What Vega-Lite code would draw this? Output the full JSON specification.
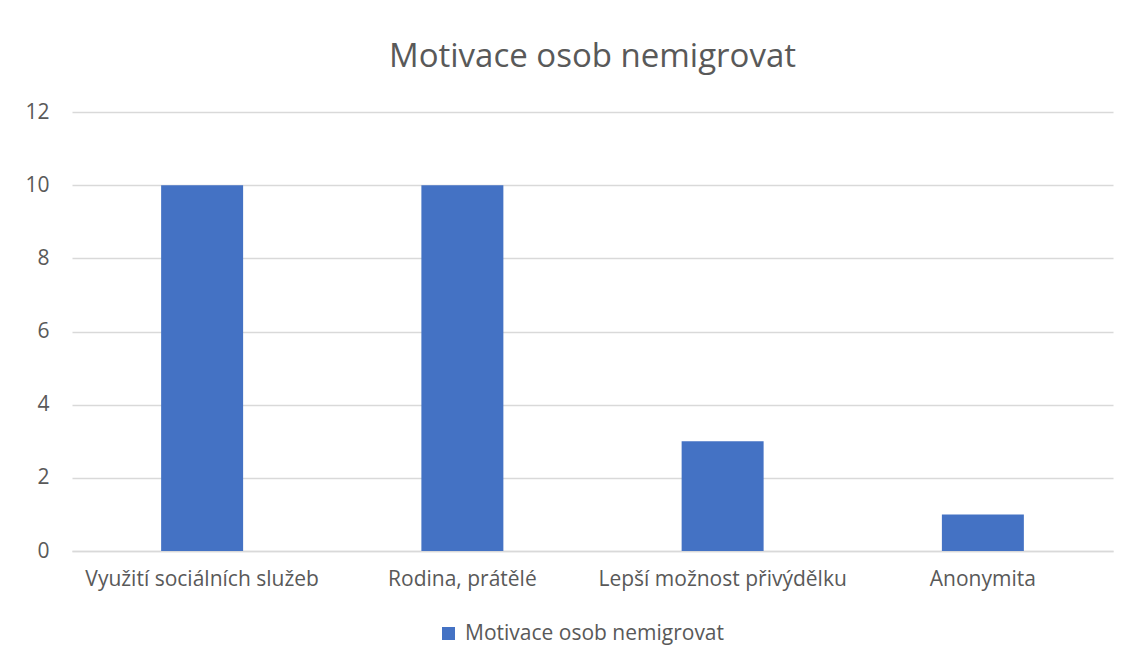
{
  "$schema": "https://vega.github.io/schema/vega-lite/v6.json",
  "autosize": {"type": "none"},
  "width": 1041,
  "height": 439,
  "padding": {"left": 72, "top": 112, "right": 18, "bottom": 115},
  "background": "white",
  "title": {
    "text": "Motivace osob nemigrovat",
    "fontSize": 33,
    "font": "Open Sans",
    "fontWeight": "normal",
    "color": "#595959",
    "anchor": "middle",
    "offset": 27
  },
  "data": {
    "values": [
      {"kategorie": "Využití sociálních služeb", "hodnota": 10, "serie": "Motivace osob nemigrovat"},
      {"kategorie": "Rodina, prátělé", "hodnota": 10, "serie": "Motivace osob nemigrovat"},
      {"kategorie": "Lepší možnost přivýdělku", "hodnota": 3, "serie": "Motivace osob nemigrovat"},
      {"kategorie": "Anonymita", "hodnota": 1, "serie": "Motivace osob nemigrovat"}
    ]
  },
  "mark": {"type": "bar", "color": "#4472C4"},
  "encoding": {
    "x": {
      "field": "kategorie",
      "type": "nominal",
      "sort": null,
      "scale": {"paddingInner": 0.685, "paddingOuter": 0.3425},
      "axis": {
        "title": null,
        "labelAngle": 0,
        "labelFont": "Open Sans",
        "labelFontSize": 21,
        "labelColor": "#595959",
        "labelPadding": 17,
        "labelLimit": 0,
        "ticks": false,
        "domainColor": "#D9D9D9",
        "domainWidth": 1.5,
        "grid": false
      }
    },
    "y": {
      "field": "hodnota",
      "type": "quantitative",
      "scale": {"domain": [0, 12]},
      "axis": {
        "title": null,
        "values": [0, 2, 4, 6, 8, 10, 12],
        "labelFont": "Open Sans",
        "labelFontSize": 21,
        "labelColor": "#595959",
        "labelPadding": 23,
        "ticks": false,
        "domain": false,
        "gridColor": "#D9D9D9",
        "gridWidth": 1.5
      }
    },
    "color": {
      "field": "serie",
      "type": "nominal",
      "scale": {"range": ["#4472C4"]},
      "legend": {
        "title": null,
        "orient": "none",
        "legendX": 366,
        "legendY": 511,
        "symbolType": "square",
        "symbolSize": 170,
        "labelFont": "Open Sans",
        "labelFontSize": 21,
        "labelLimit": 0,
        "labelColor": "#595959",
        "labelOffset": 6
      }
    }
  },
  "config": {"view": {"stroke": null}}
}
